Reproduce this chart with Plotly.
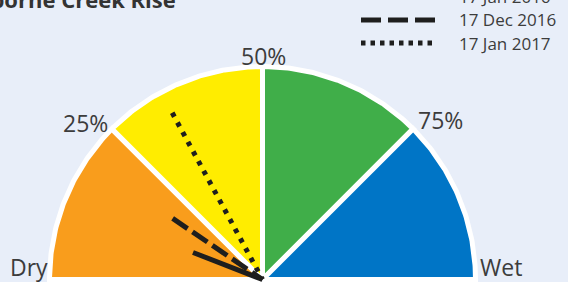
import numpy as np
import plotly.graph_objects as go

# ---- data ----
title_text = "Osborne Creek Rise"
band_bounds = [0, 25, 50, 75, 100]          # percentile band edges
band_colors = ["#F99D1C", "#FFED00", "#40AE49", "#0075C6"]
tick_values = [25, 50, 75]
tick_labels = ["25%", "50%", "75%"]
end_labels = ["Dry", "Wet"]

needle_dates = ["17 Jan 2016", "17 Dec 2016", "17 Jan 2017"]
needle_values = [11.8, 19.0, 34.2]          # percentile
needle_lengths = [0.35, 0.51, 0.89]         # fraction of gauge radius
needle_dash = ["solid", "18px,6px", "4.5px,6.5px"]
legend_dash = ["solid", "20px,7px", "4.5px,5px"]

# ---- figure geometry (px) ----
W, H = 568, 282
R_PX = 213.0
CX, CY = 262.5, 279.5   # centre of gauge in px from top-left


def ang(p):
    return np.pi * (1 - p / 100.0)


fig = go.Figure()

# gauge bands
for i, col in enumerate(band_colors):
    t = np.linspace(ang(band_bounds[i]), ang(band_bounds[i + 1]), 80)
    xs = np.concatenate([[0], np.cos(t), [0]])
    ys = np.concatenate([[0], np.sin(t), [0]])
    fig.add_trace(go.Scatter(x=xs, y=ys, mode="lines", fill="toself",
                             fillcolor=col, line=dict(color="white", width=5),
                             hoverinfo="skip", showlegend=False))

# needles
for v, L, d, name in zip(needle_values, needle_lengths, needle_dash, needle_dates):
    th = ang(v)
    fig.add_trace(go.Scatter(x=[L * np.cos(th), 0], y=[L * np.sin(th), 0],
                             mode="lines", name=name,
                             line=dict(color="#1E1E1E", width=5, dash=d),
                             showlegend=False))

# axis ranges in gauge-radius units so 1 unit = R_PX px
xr = [-CX / R_PX, (W - CX) / R_PX]
yr = [-(H - CY) / R_PX, CY / R_PX]

label_font = dict(family="Open Sans", size=23, color="#3C3C3C")
annotations = []
# percent tick labels (text centres)
tick_pos = {25: (85, 123), 50: (263, 55.5), 75: (440, 120)}
for v, lab in zip(tick_values, tick_labels):
    px, py = tick_pos[v]
    annotations.append(dict(x=(px - CX) / R_PX, y=(CY - py) / R_PX, text=lab,
                            showarrow=False, font=label_font,
                            xanchor="center", yanchor="middle"))
for lab, px in zip(end_labels, [28.5, 501]):
    annotations.append(dict(x=(px - CX) / R_PX, y=(CY - 267) / R_PX, text=lab,
                            showarrow=False, font=label_font,
                            xanchor="center", yanchor="middle"))

# title (partially off the top/left edge as in the reference)
annotations.append(dict(xref="paper", yref="paper", x=178 / W, y=1.0 + 1 / H,
                        text="<b>" + title_text + "</b>", showarrow=False,
                        xanchor="right", yanchor="middle",
                        font=dict(family="Open Sans", size=22, color="#333333")))

# custom legend
shapes = []
row0 = -3.0
row_step = 23.0
for i, (name, d) in enumerate(zip(needle_dates, legend_dash)):
    py = row0 + i * row_step
    shapes.append(dict(type="line", xref="paper", yref="paper",
                       x0=361 / W, x1=437 / W, y0=1 - py / H, y1=1 - py / H,
                       line=dict(color="#1E1E1E", width=5, dash=d)))
    annotations.append(dict(xref="paper", yref="paper", x=457 / W, y=1 - py / H,
                            text=name, showarrow=False, xanchor="left",
                            yanchor="middle",
                            font=dict(family="Open Sans", size=17, color="#3C3C3C")))

fig.update_layout(
    width=W, height=H, margin=dict(l=0, r=0, t=0, b=0),
    paper_bgcolor="#E8EEF9", plot_bgcolor="#E8EEF9",
    xaxis=dict(range=xr, visible=False, fixedrange=True),
    yaxis=dict(range=yr, visible=False, fixedrange=True),
    showlegend=False, annotations=annotations, shapes=shapes,
)

fig.write_html("out.html",
               config={"displayModeBar": False},
               post_script="document.body.style.margin='0';"
                           "document.body.style.overflow='hidden';")
